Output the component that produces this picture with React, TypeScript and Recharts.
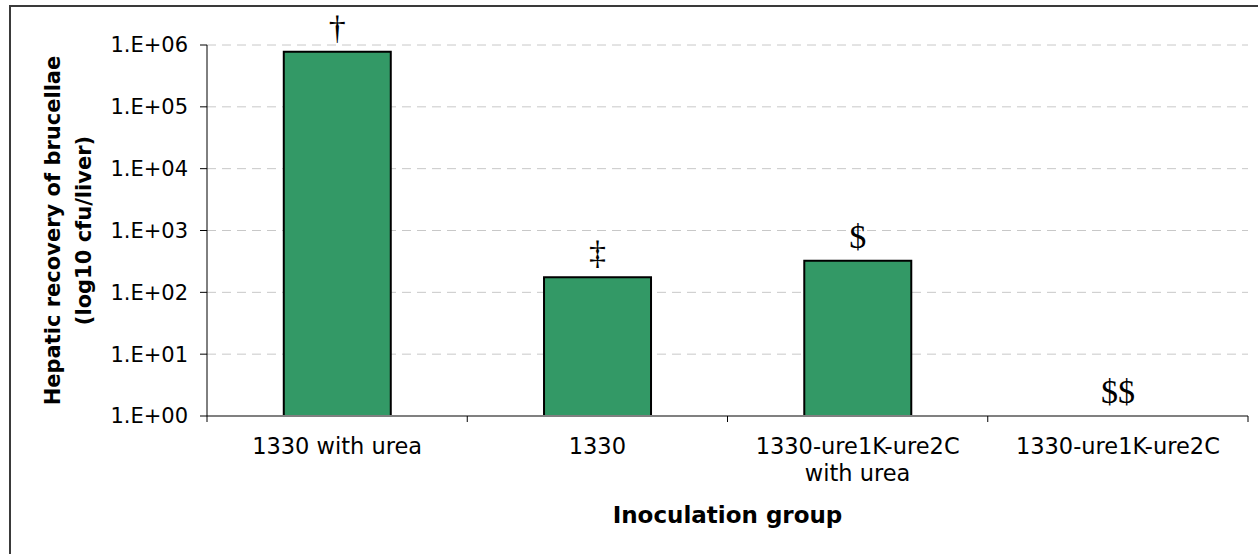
import { ComposedChart, Bar, Line, XAxis, YAxis, CartesianGrid, LabelList } from 'recharts';

// Inoculation groups (x categories); "\n" splits a label over two lines
const groups = ['1330 with urea', '1330', '1330-ure1K-ure2C\nwith urea', '1330-ure1K-ure2C'];
// Hepatic recovery, cfu/liver
const recovery = [780000, 175, 325, 1];
// Significance marks printed above each bar
const marks = ['†', '‡', '$', '$$'];
// Log axis ticks
const yTicks = [1, 10, 100, 1000, 10000, 100000, 1000000];

const data = groups.map((group, i) => ({ group, recovery: recovery[i], mark: marks[i] }));

const FONT = '"DejaVu Sans", Verdana, sans-serif';
const SERIF = '"Liberation Serif", "Times New Roman", serif';

// 1000 -> "1.E+03"
function sciLabel(v: number) {
  const exp = Math.round(Math.log10(v));
  return `1.E+${String(exp).padStart(2, '0')}`;
}

// Category label plus the Excel-style tick marks sitting on the category borders
function GroupTick(props: any) {
  const { x, y, payload, index } = props;
  const half = payload?.offset || 130;
  const lines = String(payload.value).split('\n');
  return (
    <g>
      <line x1={x - half} y1={y} x2={x - half} y2={y + 6} stroke="#000" strokeWidth={1} />
      {index === groups.length - 1 && (
        <line x1={x + half} y1={y} x2={x + half} y2={y + 6} stroke="#000" strokeWidth={1} />
      )}
      <text x={x} y={y} textAnchor="middle" fontFamily={FONT} fontSize={22.5} fill="#000">
        {lines.map((line, i) => (
          <tspan key={i} x={x} dy={i === 0 ? 38 : 27}>
            {line}
          </tspan>
        ))}
      </text>
    </g>
  );
}

function YTitle(props: any) {
  const vb = props.viewBox || { x: 0, y: 45, width: 207, height: 371 };
  const cy = vb.y + vb.height / 2;
  return (
    <g fontFamily={FONT} fontSize={21} fontWeight="bold" fill="#000">
      <text x={60} y={cy} textAnchor="middle" transform={`rotate(-90 60 ${cy})`}>
        Hepatic recovery of brucellae
      </text>
      <text x={91} y={cy} textAnchor="middle" transform={`rotate(-90 91 ${cy})`}>
        (log10 cfu/liver)
      </text>
    </g>
  );
}

function XTitle(props: any) {
  const vb = props.viewBox || { x: 207, y: 416, width: 1041, height: 100 };
  return (
    <text
      x={vb.x + vb.width / 2}
      y={523}
      textAnchor="middle"
      fontFamily={FONT}
      fontSize={23}
      fontWeight="bold"
      fill="#000"
    >
      Inoculation group
    </text>
  );
}

// marks ride on an invisible line through the bar tops, so the empty last group still gets one
function MarkLabel(props: any) {
  const { x, y, index } = props;
  return (
    <text x={x} y={y - 13} textAnchor="middle" fontFamily={SERIF} fontSize={34} fill="#000">
      {marks[index]}
    </text>
  );
}

export default function App() {
  return (
    <div style={{ position: 'fixed', left: 0, top: 0, width: 1258, height: 554, background: '#fff' }}>
      {/* chart area border, runs off the right and bottom edge */}
      <div
        style={{
          position: 'absolute',
          left: 9,
          top: 5,
          width: 1260,
          height: 560,
          border: '2px solid #3a3a3a',
          boxSizing: 'border-box',
        }}
      />
      <ComposedChart
        width={1258}
        height={554}
        data={data}
        margin={{ top: 45, right: 10, left: 0, bottom: 38 }}
        barCategoryGap="29.5%"
        style={{ position: 'absolute', left: 0, top: 0 }}
      >
        <CartesianGrid vertical={false} stroke="#c8c8c8" strokeDasharray="9 6" />
        <XAxis
          dataKey="group"
          height={100}
          axisLine={{ stroke: '#808080', strokeWidth: 2 }}
          tickLine={false}
          tickSize={0}
          tickMargin={0}
          interval={0}
          tick={<GroupTick />}
          label={<XTitle />}
        />
        <YAxis
          scale="log"
          domain={[1, 1000000]}
          ticks={yTicks}
          allowDataOverflow
          width={207}
          axisLine={{ stroke: '#000', strokeWidth: 1 }}
          tickLine={{ stroke: '#000' }}
          tickSize={7}
          tickMargin={12}
          tickFormatter={sciLabel}
          tick={{ fontFamily: FONT, fontSize: 21, fill: '#000' }}
          label={<YTitle />}
        />
        <Bar dataKey="recovery" fill="#339966" stroke="#000" strokeWidth={2} isAnimationActive={false} />
        <Line
          dataKey="recovery"
          stroke="none"
          dot={false}
          activeDot={false}
          legendType="none"
          isAnimationActive={false}
        >
          <LabelList dataKey="mark" content={<MarkLabel />} />
        </Line>
      </ComposedChart>
    </div>
  );
}
